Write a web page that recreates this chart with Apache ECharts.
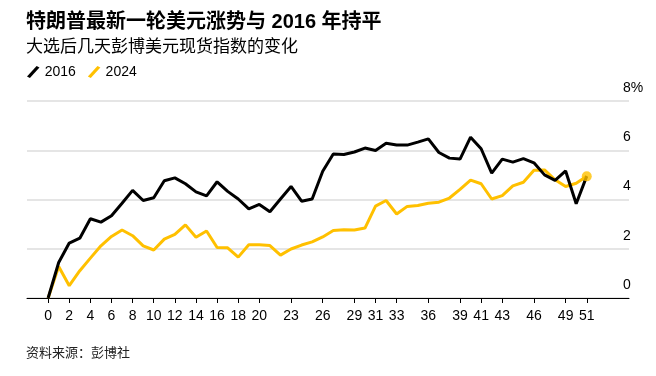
<!DOCTYPE html>
<html>
<head>
<meta charset="utf-8">
<script src="https://cdn.jsdelivr.net/npm/echarts@6/dist/echarts.min.js"></script>
<style>
  html, body { margin: 0; padding: 0; background: #fff; }
  #chart { width: 656px; height: 376px; }
</style>
</head>
<body>
<div id="chart"></div>
<script>
// 大选后的交易日
var days = [0, 1, 2, 3, 4, 5, 6, 7, 8, 9, 10, 11, 12, 13, 14, 15, 16, 17, 18, 19, 20,
  21, 22, 23, 24, 25, 26, 27, 28, 29, 30, 31, 32, 33, 34, 35, 36, 37, 38, 39, 40,
  41, 42, 43, 44, 45, 46, 47, 48, 49, 50, 51];
// 彭博美元现货指数变化 (%)
var values2016 = [0, 1.44, 2.23, 2.43, 3.22, 3.08, 3.34, 3.85, 4.37, 3.96, 4.07,
  4.76, 4.88, 4.64, 4.31, 4.15, 4.72, 4.33, 4.02, 3.62, 3.80,
  3.50, 4.02, 4.53, 3.93, 4.02, 5.15, 5.85, 5.83, 5.93, 6.09,
  5.99, 6.28, 6.21, 6.21, 6.33, 6.46, 5.91, 5.68, 5.64, 6.53,
  6.06, 5.07, 5.64, 5.52, 5.66, 5.49, 5.00, 4.78, 5.16, 3.83, 4.95];
var values2024 = [0, 1.28, 0.50, 1.11, 1.62, 2.12, 2.50, 2.76, 2.53, 2.12, 1.95,
  2.39, 2.58, 2.97, 2.47, 2.72, 2.05, 2.04, 1.66, 2.16, 2.16,
  2.13, 1.74, 1.99, 2.15, 2.28, 2.48, 2.74, 2.77, 2.76, 2.84,
  3.73, 3.96, 3.41, 3.72, 3.76, 3.85, 3.89, 4.06, 4.41, 4.79,
  4.64, 4.02, 4.16, 4.55, 4.70, 5.19, 5.20, 4.80, 4.53, 4.66, 4.94];
// x 轴刻度
var xTickDays = [0, 2, 4, 6, 8, 10, 12, 14, 16, 18, 20, 23, 26, 29, 31, 33, 36, 39, 41, 43, 46, 49, 51];

var FONT = 'Arial, "Liberation Sans", "Noto Sans CJK SC", sans-serif';
var YELLOW = '#FFC000';

function pairs(vals) {
  return days.map(function (d, i) { return [d, vals[i]]; });
}

var chart = echarts.init(document.getElementById('chart'));
var last = days.length - 1;

var option = {
  backgroundColor: '#fff',
  animation: false,
  textStyle: { fontFamily: FONT },
  title: [
    {
      text: '特朗普最新一轮美元涨势与 2016 年持平',
      left: 21, top: 7,
      textStyle: { fontFamily: FONT, fontSize: 20, fontWeight: 'bold', color: '#000' }
    },
    {
      text: '大选后几天彭博美元现货指数的变化',
      left: 21, top: 34,
      textStyle: { fontFamily: FONT, fontSize: 17, fontWeight: 'normal', color: '#000' }
    },
    {
      text: '资料来源：彭博社',
      left: 21, top: 342,
      textStyle: { fontFamily: FONT, fontSize: 13, fontWeight: 'normal', color: '#222' }
    }
  ],
  legend: {
    left: 22, top: 60,
    itemWidth: 13, itemHeight: 12, itemGap: 12,
    data: [
      { name: '2016', icon: 'path://M0,11L10,0L13,1.5L3,12.5Z' },
      { name: '2024', icon: 'path://M0,11L10,0L13,1.5L3,12.5Z' }
    ],
    textStyle: { fontFamily: FONT, fontSize: 14, color: '#000' }
  },
  grid: { left: 27, right: 27, top: 101, bottom: 78 },
  xAxis: {
    type: 'value',
    min: -2, max: 55,
    splitLine: { show: false },
    axisLine: { lineStyle: { color: '#000', width: 1 } },
    axisTick: { customValues: xTickDays, length: 5, lineStyle: { color: '#000' } },
    axisLabel: { customValues: xTickDays, margin: 11, fontSize: 14, color: '#000', fontFamily: FONT }
  },
  yAxis: {
    type: 'value',
    position: 'right',
    min: 0, max: 8, interval: 2,
    axisLine: { show: false },
    axisTick: { show: false },
    splitLine: { lineStyle: { color: '#dcdcdc', width: 1.5 } },
    axisLabel: {
      inside: true, align: 'left', margin: 6,
      verticalAlign: 'bottom', padding: [0, 0, 6, 0],
      fontSize: 14, color: '#000', fontFamily: FONT,
      formatter: function (v) { return v === 8 ? '8%' : String(v); }
    }
  },
  series: [
    {
      name: '2024', type: 'line', data: pairs(values2024),
      showSymbol: false, color: YELLOW,
      lineStyle: { width: 3, color: YELLOW }, z: 2
    },
    {
      name: '2016', type: 'line', data: pairs(values2016),
      showSymbol: false, color: '#000',
      lineStyle: { width: 3, color: '#000' }, z: 3
    },
    {
      name: 'end', type: 'scatter',
      data: [[days[last], values2024[last]]],
      symbolSize: 10, itemStyle: { color: YELLOW }, z: 4
    }
  ]
};
chart.setOption(option);
</script>
</body>
</html>
